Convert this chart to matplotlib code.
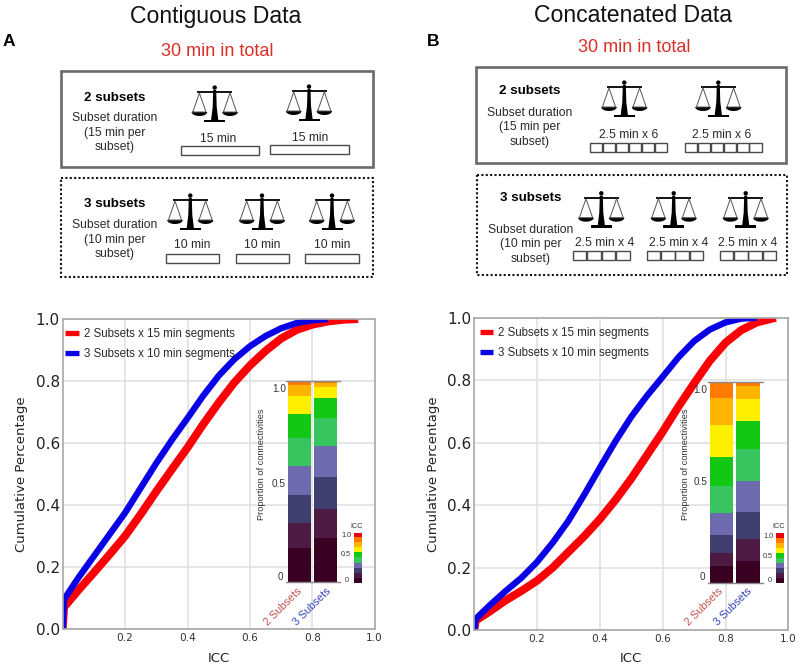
import numpy as np
import matplotlib
matplotlib.use("Agg")
import matplotlib.pyplot as plt
from matplotlib.colors import ListedColormap
from matplotlib.lines import Line2D
from matplotlib.patches import Rectangle, Polygon, Circle

plt.rcParams['font.family'] = ['Liberation Sans', 'DejaVu Sans']

# ---------- data ----------
icc_a_red = [0.0, 0.004, 0.05, 0.1, 0.15, 0.2, 0.25, 0.3, 0.35, 0.4, 0.45, 0.5, 0.55, 0.6, 0.65, 0.7, 0.75, 0.8, 0.85, 0.9, 0.947]
cum_a_red = [0.0, 0.07, 0.125, 0.182, 0.24, 0.30, 0.37, 0.444, 0.515, 0.585, 0.66, 0.73, 0.795, 0.85, 0.897, 0.937, 0.965, 0.982, 0.992, 0.998, 1.0]
icc_a_blue = [0.0, 0.004, 0.05, 0.1, 0.15, 0.2, 0.25, 0.3, 0.35, 0.4, 0.45, 0.5, 0.55, 0.6, 0.65, 0.7, 0.75, 0.8, 0.85]
cum_a_blue = [0.0, 0.095, 0.165, 0.235, 0.305, 0.375, 0.455, 0.535, 0.61, 0.68, 0.752, 0.817, 0.87, 0.912, 0.945, 0.97, 0.987, 0.996, 1.0]
icc_b_red = [0.0, 0.004, 0.05, 0.1, 0.15, 0.2, 0.25, 0.3, 0.35, 0.4, 0.45, 0.5, 0.55, 0.6, 0.65, 0.7, 0.75, 0.8, 0.85, 0.9, 0.96]
cum_b_red = [0.0, 0.03, 0.06, 0.095, 0.125, 0.158, 0.2, 0.25, 0.30, 0.355, 0.417, 0.485, 0.56, 0.635, 0.715, 0.79, 0.862, 0.92, 0.96, 0.985, 1.0]
icc_b_blue = [0.0, 0.004, 0.05, 0.1, 0.15, 0.2, 0.25, 0.3, 0.35, 0.4, 0.45, 0.5, 0.55, 0.6, 0.65, 0.7, 0.75, 0.8, 0.85, 0.9]
cum_b_blue = [0.0, 0.035, 0.08, 0.125, 0.167, 0.218, 0.28, 0.35, 0.433, 0.52, 0.605, 0.683, 0.75, 0.811, 0.873, 0.925, 0.962, 0.985, 0.997, 1.0]

inset_a_2 = [.169, .124, .139, .144, .141, .121, .089, .053, .02, 0]
inset_a_3 = [.219, .145, .161, .152, .138, .099, .058, .02, .008, 0]
inset_b_2 = [.086, .066, .088, .11, .133, .145, .157, .132, .078, .005]
inset_b_3 = [.112, .106, .134, .155, .157, .143, .107, .066, .02, 0]
bin_colors = ['#3a0022', '#4c1a42', '#3f3e6e', '#6e6aae', '#38c45e',
              '#12c814', '#fff000', '#ffb400', '#ff7a00', '#e8000c']

legend_labels = ['2 Subsets x 15 min segments', '3 Subsets x 10 min segments']
x_ticks = [0.2, 0.4, 0.6, 0.8, 1.0]
y_ticks = [0.0, 0.2, 0.4, 0.6, 0.8, 1.0]

RED, BLUE = '#fb0007', '#0a00e6'
W, H = 800, 666
fig = plt.figure(figsize=(8, 6.66), dpi=100, facecolor='white')


def axes_px(l, t, r, b, **kw):
    return fig.add_axes([l / W, 1 - b / H, (r - l) / W, (b - t) / H], **kw)


# ---------- overlay in pixel coordinates for the schematic ----------
ov = axes_px(0, 0, W, H, zorder=10)
ov.set_xlim(0, W)
ov.set_ylim(H, 0)
ov.axis('off')


def label(x, y, s, size=9, **kw):
    kw.setdefault('color', '#2a2a2a')
    ov.text(x, y, s, fontsize=size, ha='center', va='center', **kw)


def box(x0, y0, x1, y1, dotted=False):
    if dotted:
        ov.add_patch(Rectangle((x0, y0), x1 - x0, y1 - y0, fill=False, ec='#111111',
                               lw=1.5, ls=(0, (1, 1.1))))
    else:
        ov.add_patch(Rectangle((x0, y0), x1 - x0, y1 - y0, fill=False, ec='#6a6a6a', lw=1.9))


def bar_rect(x0, y0, x1, y1):
    ov.add_patch(Rectangle((x0, y0), x1 - x0, y1 - y0, fill=False, ec='#4a4a4a', lw=1.0))


def cells(x0, y0, x1, y1, n):
    w = (x1 - x0) / n
    for i in range(n):
        bar_rect(x0 + i * w + 0.4, y0, x0 + (i + 1) * w - 0.4, y1)


def scale(cx, y0):
    k = 'black'
    ov.add_patch(Circle((cx, y0 + 2.6), 2.2, fc=k, ec='none'))
    ov.plot([cx - 17.5, cx + 17.5], [y0 + 7, y0 + 7], color=k, lw=1.3, solid_capstyle='butt')
    ov.add_patch(Polygon([(cx - 1.5, y0 + 5), (cx + 1.5, y0 + 5), (cx + 2, y0 + 22),
                          (cx + 3.6, y0 + 35), (cx - 3.6, y0 + 35), (cx - 2, y0 + 22)],
                         fc=k, ec='none'))
    ov.add_patch(Rectangle((cx - 10.5, y0 + 34.5), 21, 2.8, fc=k, ec='none'))
    for side in (-1, 1):
        c = cx + side * 15.3
        ov.plot([c - 6.6, c, c + 6.6, c - 6.6], [y0 + 27, y0 + 8, y0 + 27, y0 + 27],
                color='#555555', lw=0.7)
        t = np.linspace(0, np.pi, 20)
        ov.add_patch(Polygon(np.c_[c + 7.8 * np.cos(t), y0 + 27 + 4 * np.sin(t)], fc=k, ec='none'))


def subset_text(cx, y_head, ys, n, minutes):
    label(cx, y_head, f'{n} subsets', size=9.6, fontweight='bold', color='black')
    for y, s in zip(ys, ['Subset duration', f'({minutes} min per', 'subset)']):
        label(cx, y, s, size=8.7)


# Panel A schematic
label(216, 16, 'Contiguous Data', size=16.6, color='#111111')
label(9, 42, 'A', size=12.5, fontweight='bold', color='black')
label(217, 52, '30 min in total', size=13, color='#d9302a')
box(61.3, 71, 373.3, 167.3)
box(61.3, 177.7, 373.3, 277.3, dotted=True)
subset_text(115, 98, [118, 132.7, 147], 2, 15)
subset_text(114.3, 203.7, [225, 239.7, 254], 3, 10)
for cx, y in [(214.7, 85), (309, 84), (190.3, 193), (262, 193), (332, 193)]:
    scale(cx, y)
label(218, 139, '15 min', size=8.7)
label(310, 138, '15 min', size=8.7)
for cx in (192.3, 262, 332):
    label(cx, 245.3, '10 min', size=8.7)
bar_rect(180.7, 146.3, 259.3, 155)
bar_rect(270, 145.3, 348.7, 154.3)
for x0, x1 in [(166, 219.3), (235.7, 289), (305.3, 359)]:
    bar_rect(x0, 254, x1, 262.7)

# Panel B schematic
label(632.7, 16, 'Concatenated Data', size=16.6, color='#111111')
label(432.7, 42, 'B', size=12.5, fontweight='bold', color='black')
label(634.3, 47, '30 min in total', size=13, color='#d9302a')
box(476, 67, 786, 162.7)
box(477.3, 175, 787.3, 275.3, dotted=True)
subset_text(529.7, 91, [112.7, 127.3, 142], 2, 15)
subset_text(530.5, 197.7, [229.7, 244.3, 258.7], 3, 10)
for cx, y in [(624.3, 80), (718.3, 80), (601.3, 190.7), (673.7, 190.7), (745.7, 190.7)]:
    scale(cx, y)
label(629, 135, '2.5 min x 6', size=8.7)
label(722, 135, '2.5 min x 6', size=8.7)
for cx in (604.7, 678.3, 747.3):
    label(cx, 243.3, '2.5 min x 4', size=8.7)
cells(589.7, 142.7, 667, 152, 6)
cells(684.3, 142.7, 762, 152, 6)
for x0, x1 in [(572.3, 630), (646.3, 703.7), (719.3, 776.7)]:
    cells(x0, 251.3, x1, 260, 4)


# ---------- main panels ----------
def main_panel(rect, xr, yr, xb, yb, ylab_x, icc_x, lx):
    ax = axes_px(*rect)
    ax.plot(xr, yr, color=RED, lw=5.8, solid_capstyle='butt', solid_joinstyle='round')
    ax.plot(xb, yb, color=BLUE, lw=4.6, solid_capstyle='butt', solid_joinstyle='round')
    ax.set_xlim(0, 1)
    ax.set_ylim(0, 1)
    ax.set_xticks(x_ticks)
    ax.set_yticks(y_ticks)
    ax.tick_params(axis='x', length=0, labelsize=7.6, pad=3, labelcolor='#333333')
    ax.tick_params(axis='y', length=0, labelsize=11, pad=2, labelcolor='#222222')
    for t in ax.get_xticklabels() + ax.get_yticklabels():
        t.set_fontfamily('DejaVu Sans')
    ax.grid(True, color='#e2e2e2', lw=1.2)
    ax.set_axisbelow(True)
    for s in ax.spines.values():
        s.set_color('#a8a8a8')
        s.set_linewidth(1.2)
    handles = [Line2D([], [], color=c, lw=3.8, solid_capstyle='butt') for c in (RED, BLUE)]
    ax.legend(handles, legend_labels, loc='upper left', frameon=False, fontsize=8.3,
              handlelength=1.15, handletextpad=0.45, labelspacing=0.66,
              borderaxespad=0, bbox_to_anchor=(lx, 0.985), labelcolor='#2a2a2a')
    label(ylab_x, 473.7, 'Cumulative Percentage', size=9.5, rotation=90,
          family='DejaVu Sans', color='#222222')
    label(icc_x, 659, 'ICC', size=9.5, family='DejaVu Sans', color='#222222')
    return ax


main_panel((62.7, 319, 374.7, 629), icc_a_red, cum_a_red, icc_a_blue, cum_a_blue, 22, 219, -0.006)
main_panel((474.3, 317.7, 788.3, 630), icc_b_red, cum_b_red, icc_b_blue, cum_b_blue, 433, 631, 0.002)


# ---------- stacked inset bars ----------
def inset(x0, x1, top, bottom, bar2, bar3):
    ax = axes_px(x0, top, x1, bottom, zorder=5)
    ax.patch.set_alpha(0)
    for i, vals in enumerate((bar2, bar3)):
        base = np.r_[0, np.cumsum(vals)[:-1]]
        ax.bar([i] * len(vals), vals, bottom=base, width=0.875, color=bin_colors, lw=0)
    ax.set_xlim(-0.51, 1.55)
    ax.set_ylim(0, 1)
    ax.set_xticks([])
    ax.set_yticks([])
    for n in ('left', 'right'):
        ax.spines[n].set_visible(False)
    for n in ('top', 'bottom'):
        ax.spines[n].set_color('#888888')
        ax.spines[n].set_linewidth(1.0)


def colorbar(x0, x1, top, bottom):
    ax = axes_px(x0, top, x1, bottom, zorder=5)
    ax.imshow(np.arange(10)[::-1, None], aspect='auto', cmap=ListedColormap(bin_colors),
              interpolation='nearest')
    ax.axis('off')


def inset_text(pl, c2, c3, rows, icc):
    label(pl, 464, 'Proportion of connectivities', size=6.7, rotation=90, color='#333333')
    for (x, y), s in zip(rows[:3], ['1.0', '0.5', '0']):
        label(x, y, s, size=7.2, color='#333333')
    label(c2, 607, '2 Subsets', size=7.8, rotation=45, color='#c4524e')
    label(c3, 607, '3 Subsets', size=7.8, rotation=45, color='#3742b8')
    label(icc[0], icc[1], 'ICC', size=5.2, color='#333333')
    for (x, y), s in zip(rows[3:], ['1.0', '0.5', '0']):
        label(x, y, s, size=5.2, color='#333333')


inset(285.7, 340, 381, 582.3, inset_a_2, inset_a_3)
colorbar(354.3, 362.3, 532.7, 583.3)
inset_text(262, 283.5, 311.7,
           [(279, 389), (279, 484), (280.7, 577), (346.7, 535.7), (345.7, 555), (347, 581)],
           (357, 527))
inset(707.7, 762.7, 381.7, 583.3, inset_b_2, inset_b_3)
colorbar(775.7, 783.3, 533.3, 583.3)
inset_text(685, 704.3, 732.7,
           [(700, 390), (701, 481.7), (702.3, 577.3), (768, 536), (767.7, 556), (769.3, 581)],
           (778.3, 527))

fig.savefig('out.png', dpi=100)
